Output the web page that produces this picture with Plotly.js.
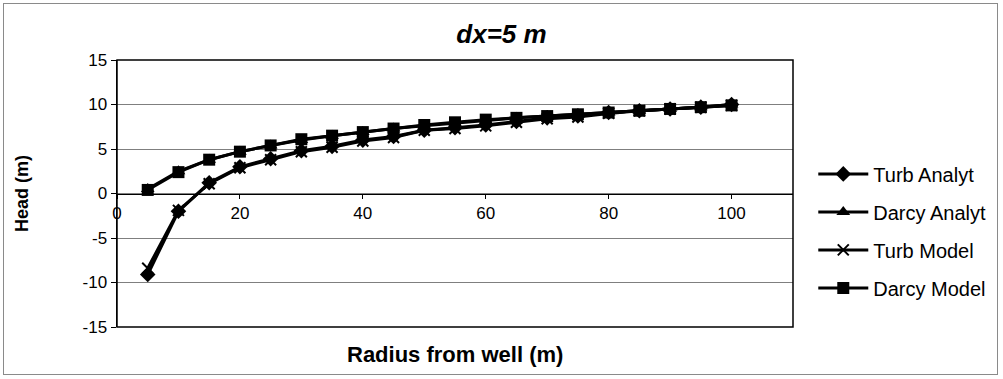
<!DOCTYPE html>
<html>
<head>
<meta charset="utf-8">
<script src="https://cdn.plot.ly/plotly-3.0.1.min.js"></script>
<style>
  html, body { margin: 0; padding: 0; background: #fff; }
  #wrap { position: relative; width: 1003px; height: 379px; }
  #chart { position: absolute; left: 0; top: 0; width: 1003px; height: 379px; }
  #frame { position: absolute; left: 3px; top: 3px; width: 995px; height: 372px;
           border: 1px solid #8a8a8a; box-sizing: border-box; pointer-events: none; }
</style>
</head>
<body>
<div id="wrap">
  <div id="chart"></div>
  <div id="frame"></div>
</div>
<script>
// Data
const radius = [5, 10, 15, 20, 25, 30, 35, 40, 45, 50, 55, 60, 65, 70, 75, 80, 85, 90, 95, 100];
const turbAnalyt  = [-9.1, -2.0, 1.2, 3.0, 3.9, 4.8, 5.3, 6.0, 6.4, 7.1, 7.4, 7.7, 8.1, 8.5, 8.7, 9.1, 9.3, 9.5, 9.7, 10.0];
const darcyAnalyt = [0.5, 2.5, 3.8, 4.7, 5.4, 6.0, 6.5, 6.9, 7.3, 7.6, 7.9, 8.2, 8.5, 8.7, 8.9, 9.1, 9.3, 9.5, 9.7, 10.0];
const turbModel   = [-8.4, -1.9, 1.1, 2.9, 3.8, 4.7, 5.2, 5.9, 6.3, 7.1, 7.3, 7.6, 8.0, 8.4, 8.6, 9.0, 9.3, 9.5, 9.7, 9.9];
const darcyModel  = [0.4, 2.4, 3.8, 4.7, 5.4, 6.1, 6.5, 6.9, 7.3, 7.7, 8.0, 8.3, 8.5, 8.7, 8.9, 9.1, 9.3, 9.5, 9.7, 9.9];

const seriesNames = ["Turb Analyt", "Darcy Analyt", "Turb Model", "Darcy Model"];
const xTicks = [0, 20, 40, 60, 80, 100];
const yTicks = [-15, -10, -5, 0, 5, 10, 15];

const FONT = "Liberation Sans, Arial, sans-serif";

function mk(name, y, symbol, size, group) {
  const isX = symbol.indexOf("x") === 0;
  return {
    x: radius, y: y, name: name, type: "scatter", mode: "lines+markers",
    legendgroup: group,
    line: { color: "#000", width: 3 },
    marker: {
      symbol: symbol, size: size, color: "#000",
      line: { color: "#000", width: isX ? 2 : 0 }
    }
  };
}

const traces = [
  mk(seriesNames[0], turbAnalyt, "diamond", 12, "a"),
  mk(seriesNames[1], darcyAnalyt, "triangle-up", 12, "b"),
  mk(seriesNames[2], turbModel, "x-thin-open", 11, "c"),
  mk(seriesNames[3], darcyModel, "square", 12, "d")
];

const layout = {
  width: 1003, height: 379,
  margin: { l: 117, r: 207, t: 60, b: 52 },
  paper_bgcolor: "#fff", plot_bgcolor: "#fff",
  font: { family: FONT, size: 17, color: "#000" },
  title: {
    text: "<b><i>dx=5 m</i></b>",
    font: { family: FONT, size: 26, color: "#000" },
    x: 0.5, xanchor: "center", xref: "container",
    y: 0.91, yanchor: "middle", yref: "container"
  },
  xaxis: {
    range: [0, 110],
    tickvals: xTicks, ticktext: xTicks.map(String),
    anchor: "free", position: 0.5,
    showline: true, linecolor: "#000", linewidth: 1.5,
    ticks: "outside", ticklen: 4, tickcolor: "#000",
    showgrid: false, zeroline: false,
    tickfont: { family: FONT, size: 17, color: "#000" },
    title: { text: "" }
  },
  yaxis: {
    range: [-15, 15],
    tickvals: yTicks, ticktext: yTicks.map(String),
    showline: true, linecolor: "#000", linewidth: 1.5,
    ticks: "outside", ticklen: 5, tickcolor: "#000",
    showgrid: true, gridcolor: "#7f7f7f", gridwidth: 1,
    zeroline: false,
    tickfont: { family: FONT, size: 17, color: "#000" },
    title: { text: "<b>Head (m)</b>", font: { family: FONT, size: 18, color: "#000" }, standoff: 49 }
  },
  shapes: [
    { type: "rect", xref: "paper", yref: "paper", x0: 0, x1: 1, y0: 0, y1: 1,
      line: { color: "#000", width: 1.5 }, fillcolor: "rgba(0,0,0,0)", layer: "above" }
  ],
  annotations: [
    { text: "<b>Radius from well (m)</b>", xref: "paper", yref: "paper",
      x: 0.5, y: -0.05, xanchor: "center", yanchor: "top", showarrow: false,
      font: { family: FONT, size: 22, color: "#000" } }
  ],
  showlegend: true,
  legend: {
    x: 1.03, xanchor: "left", y: 0.36, yanchor: "middle",
    font: { family: FONT, size: 20, color: "#000" },
    tracegroupgap: 9, traceorder: "grouped", itemwidth: 50,
    bgcolor: "rgba(0,0,0,0)", borderwidth: 0
  }
};

Plotly.newPlot("chart", traces, layout, { displayModeBar: false, staticPlot: true });
</script>
</body>
</html>
